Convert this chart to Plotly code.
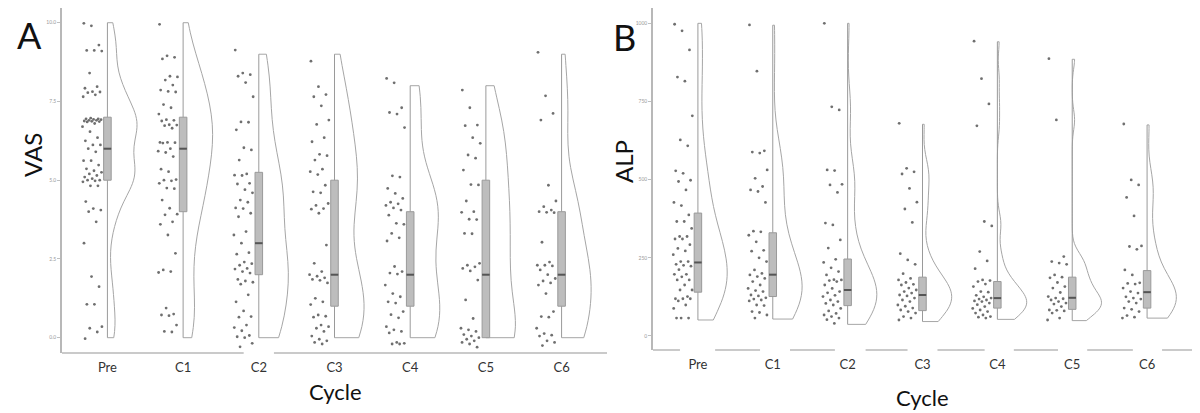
import numpy as np
import plotly.graph_objects as go

categories = ["Pre", "C1", "C2", "C3", "C4", "C5", "C6"]

vas_pre = [9.98, 9.9, 9.29, 9.12, 9.12, 9.1, 8.4, 7.97, 7.92, 7.81, 7.8, 7.78, 7.71, 7.65,
           6.97, 6.95, 6.95, 6.93, 6.92, 6.9, 6.9, 6.88, 6.87, 6.86, 6.85, 6.8, 6.7, 6.54,
           6.35, 6.25, 6.12, 6.12, 6.0, 5.9, 5.62, 5.62, 5.48, 5.36, 5.3, 5.25, 5.2, 5.15,
           5.1, 5.05, 5.0, 5.0, 4.98, 4.95, 4.82, 4.82, 4.32, 4.1, 4.05, 4.0, 3.68, 3.0,
           1.94, 1.62, 1.06, 1.06, 0.35, 0.3, 0.18, -0.03]
vas_c1 = [9.95, 8.95, 8.9, 8.85, 8.3, 8.28, 8.18, 8.02, 7.86, 7.82, 7.8, 7.4, 7.3, 7.1,
          6.92, 6.9, 6.88, 6.76, 6.75, 6.73, 6.65, 6.2, 6.2, 6.19, 6.18, 6.0, 5.92, 5.88,
          5.75, 5.35, 5.27, 5.02, 5.0, 4.98, 4.9, 4.75, 4.73, 4.37, 4.11, 3.92, 3.9, 3.68,
          3.6, 3.26, 2.68, 2.15, 2.1, 2.07, 0.94, 0.75, 0.72, 0.7, 0.4, 0.2, 0.18]
vas_c2 = [9.13, 8.4, 8.35, 8.3, 8.1, 7.65, 6.85, 6.84, 6.6, 6.03, 5.96, 5.64, 5.2, 5.16,
          5.15, 4.9, 4.88, 4.7, 4.6, 4.37, 4.3, 4.12, 4.1, 3.95, 3.84, 3.37, 3.26, 3.0,
          2.7, 2.65, 2.4, 2.35, 2.3, 2.2, 2.18, 2.1, 2.05, 1.85, 1.8, 1.76, 1.7, 1.36,
          1.14, 0.85, 0.67, 0.65, 0.4, 0.32, 0.22, 0.07, 0.03, 0.0, -0.18, -0.29]
vas_c3 = [8.78, 7.97, 7.72, 7.65, 7.36, 6.91, 6.77, 6.35, 6.22, 5.82, 5.78, 5.64, 5.35,
          5.27, 5.18, 4.84, 4.63, 4.6, 4.26, 4.2, 4.1, 4.08, 3.95, 2.94, 2.36, 2.1, 2.0,
          1.95, 1.9, 1.85, 1.82, 1.74, 1.25, 1.14, 1.05, 0.72, 0.68, 0.65, 0.4, 0.35,
          0.3, 0.2, 0.05, -0.05, -0.1, -0.15, -0.2]
vas_c4 = [8.23, 8.09, 7.3, 7.15, 7.1, 6.67, 5.14, 5.1, 4.74, 4.58, 4.42, 4.3, 4.25, 4.2,
          4.12, 4.05, 3.89, 3.63, 3.6, 3.31, 3.17, 3.07, 2.26, 2.1, 2.05, 2.02, 1.67, 1.4,
          1.3, 1.14, 1.1, 0.83, 0.73, 0.63, 0.35, 0.25, 0.2, 0.15, -0.15, -0.18, -0.2, -0.2]
vas_c5 = [7.86, 7.3, 6.75, 6.73, 6.35, 6.17, 5.8, 5.7, 5.32, 4.86, 4.85, 4.34, 4.0, 3.98,
          3.76, 3.75, 3.31, 3.3, 2.36, 2.3, 2.25, 2.2, 2.12, 1.83, 1.2, 0.61, 0.3, 0.25,
          0.2, 0.1, 0.05, 0.0, -0.05, -0.1, -0.15, -0.2, -0.3]
vas_c6 = [9.06, 7.68, 7.12, 6.91, 4.84, 4.34, 4.16, 4.05, 4.0, 3.98, 3.97, 3.03, 2.4, 2.3,
          2.3, 2.28, 2.15, 2.0, 1.88, 1.8, 1.74, 1.67, 1.4, 0.83, 0.67, 0.65, 0.3, 0.13,
          0.08, 0.05, -0.1, -0.15, -0.25]

vas_q1 = [5, 4, 2, 1, 1, 0, 1]
vas_median = [6, 6, 3, 2, 2, 2, 2]
vas_q3 = [7, 7, 5.25, 5, 4, 5, 4]
vas_min = [0, 0, 0, 0, 0, 0, 0]
vas_max = [10, 10, 9, 9, 8, 8, 9]
vas_ticks = [0, 2.5, 5, 7.5, 10]
vas_ticktext = ["0.0", "2.5", "5.0", "7.5", "10.0"]

# ---- Panel B: ALP ----
alp_pre = [997, 976, 915, 828, 815, 704, 627, 608, 528, 520, 498, 494, 467, 427, 417, 387,
           366, 366, 344, 318, 318, 310, 310, 292, 280, 272, 260, 238, 238, 229, 226, 223,
           212, 197, 197, 189, 179, 179, 163, 147, 147, 126, 119, 119, 119, 112, 99, 88,
           57, 57, 57]
alp_c1 = [995, 847, 592, 588, 585, 531, 504, 478, 467, 462, 427, 335, 333, 322, 301, 274,
          271, 250, 238, 211, 200, 195, 190, 184, 174, 163, 152, 145, 142, 131, 128, 122,
          118, 115, 112, 99, 97, 78, 75, 67, 57]
alp_c2 = [1000, 733, 723, 531, 529, 485, 483, 459, 361, 355, 307, 281, 245, 235, 218, 206,
          195, 180, 179, 177, 174, 163, 152, 142, 138, 130, 126, 115, 110, 104, 99, 88,
          80, 72, 67, 62, 57, 52, 40]
alp_c3 = [680, 536, 525, 518, 472, 428, 406, 363, 263, 243, 229, 199, 184, 179, 171, 165,
          163, 153, 147, 142, 137, 131, 128, 121, 115, 110, 99, 95, 89, 83, 78, 73, 62,
          57, 51]
alp_c4 = [943, 823, 742, 672, 366, 352, 270, 240, 215, 179, 177, 174, 166, 158, 142, 140,
          130, 125, 121, 118, 115, 112, 110, 105, 100, 94, 88, 83, 78, 73, 67, 62, 60, 57]
alp_c5 = [887, 691, 254, 238, 233, 229, 195, 188, 186, 171, 158, 153, 139, 126, 121, 119,
          115, 110, 105, 102, 94, 83, 82, 80, 73, 57, 51]
alp_c6 = [678, 499, 483, 443, 384, 288, 286, 277, 211, 195, 170, 168, 166, 153, 142, 137,
          125, 121, 118, 110, 105, 89, 85, 78, 65, 60, 57]

alp_q1 = [140, 126, 97, 81, 89, 85, 89]
alp_median = [235, 196, 147, 131, 121, 122, 140]
alp_q3 = [393, 330, 246, 188, 174, 188, 209]
alp_min = [51, 54, 37, 46, 53, 49, 57]
alp_max = [1000, 994, 1000, 677, 941, 885, 675]
alp_ticks = [0, 250, 500, 750, 1000]
alp_ticktext = ["0", "250", "500", "750", "1000"]

vas_points = [vas_pre, vas_c1, vas_c2, vas_c3, vas_c4, vas_c5, vas_c6]
alp_points = [alp_pre, alp_c1, alp_c2, alp_c3, alp_c4, alp_c5, alp_c6]

# ---------------- styling ----------------
W, H = 1200, 413
FONT = "Lato, 'Open Sans', sans-serif"
PT_COLOR = "rgba(75,75,75,0.8)"
VIO_LINE = "#a6a6a6"
BOX_FILL = "#bdbdbd"
BOX_LINE = "#9a9a9a"
MED_COLOR = "#555555"
AXIS_COLOR = "#b8b8b8"


def nrd0(v):
    v = np.asarray(v, float)
    sd = v.std(ddof=1)
    iqr = np.subtract(*np.percentile(v, [75, 25]))
    lo = min(sd, iqr / 1.34) if iqr > 0 else sd
    return 0.9 * lo * len(v) ** (-0.2)


def jitter_offsets(n):
    k = np.arange(1, n + 1)
    u = (k * 0.6180339887 + 0.31) % 1.0
    return -0.07 - 0.26 * u


fig = go.Figure()


def add_panel(points, q1, med, q3, vmin, vmax, xa, ya, group):
    for i, vals in enumerate(points):
        fig.add_trace(go.Violin(
            x=[i] * len(vals), y=vals, xaxis=xa, yaxis=ya,
            side="positive", width=0.78, scalegroup=group, scalemode="width",
            spanmode="manual", span=[vmin[i], vmax[i]], bandwidth=nrd0(vals),
            points=False, box_visible=False, meanline_visible=False,
            line=dict(color=VIO_LINE, width=1), fillcolor="rgba(255,255,255,0)",
            hoverinfo="skip", showlegend=False))
    fig.add_trace(go.Box(
        x=list(range(len(categories))), q1=q1, median=med, q3=q3,
        lowerfence=vmin, upperfence=vmax, xaxis=xa, yaxis=ya,
        width=0.1, whiskerwidth=0, fillcolor=BOX_FILL,
        line=dict(color=BOX_LINE, width=1), boxpoints=False,
        hoverinfo="skip", showlegend=False))
    mx, my = [], []
    for i, m in enumerate(med):
        mx += [i - 0.05, i + 0.05, None]
        my += [m, m, None]
    fig.add_trace(go.Scatter(x=mx, y=my, xaxis=xa, yaxis=ya, mode="lines",
                             line=dict(color=MED_COLOR, width=2),
                             hoverinfo="skip", showlegend=False))
    px, py = [], []
    for i, vals in enumerate(points):
        px += list(i + jitter_offsets(len(vals)))
        py += list(vals)
    fig.add_trace(go.Scatter(x=px, y=py, xaxis=xa, yaxis=ya, mode="markers",
                             marker=dict(size=2.8, color=PT_COLOR, line=dict(width=0)),
                             hoverinfo="skip", showlegend=False))


add_panel(vas_points, vas_q1, vas_median, vas_q3, vas_min, vas_max, "x", "y", "A")
add_panel(alp_points, alp_q1, alp_median, alp_q3, alp_min, alp_max, "x2", "y2", "B")


def xaxis_cfg(x0, x1, anchor, standoff):
    return dict(domain=[x0 / W, x1 / W], range=[-0.6, 6.6], anchor=anchor,
                tickmode="array", tickvals=list(range(len(categories))),
                ticktext=categories, ticks="", showgrid=False, zeroline=False,
                showline=False, ticklabelstandoff=standoff,
                tickfont=dict(family=FONT, size=13, color="#333333"))


def yaxis_cfg(top, bottom, rng, tv, tt, anchor):
    return dict(domain=[1 - bottom / H, 1 - top / H], range=rng, anchor=anchor,
                tickmode="array", tickvals=tv, ticktext=tt, ticks="outside",
                ticklen=3, tickcolor="#c0c0c0", tickwidth=1,
                showgrid=False, zeroline=False, showline=True,
                linecolor=AXIS_COLOR, linewidth=1.5,
                tickfont=dict(family=FONT, size=5, color="#999999"))


fig.update_layout(
    width=W, height=H, margin=dict(l=0, r=0, t=0, b=0),
    paper_bgcolor="white", plot_bgcolor="white",
    violinmode="overlay", boxmode="overlay", showlegend=False,
    xaxis=xaxis_cfg(62, 607, "y", 5),
    yaxis=yaxis_cfg(8, 353, [-0.486, 10.467], vas_ticks, vas_ticktext, "x"),
    xaxis2=xaxis_cfg(653, 1192, "y2", 5),
    yaxis2=yaxis_cfg(8, 350, [-45, 1049], alp_ticks, alp_ticktext, "x2"),
)

# x-axis baselines (broken around tick labels as in the original)
line_style = dict(color=AXIS_COLOR, width=1.5)
for a, b in [(-0.6, 1.8), (2.2, 6.6)]:
    fig.add_shape(type="line", xref="x", yref="y domain", x0=a, x1=b, y0=0, y1=0,
                  line=line_style)
for a, b in [(-0.6, -0.24), (0.23, 0.83), (1.23, 1.83), (2.24, 2.8), (3.2, 3.83),
             (4.22, 4.81), (5.2, 5.81), (6.2, 6.6)]:
    fig.add_shape(type="line", xref="x2", yref="y2 domain", x0=a, x1=b, y0=0, y1=0,
                  line=line_style)


def ann(text, x, y, size, angle=0):
    fig.add_annotation(text=text, x=x / W, y=1 - y / H, xref="paper", yref="paper",
                       xanchor="center", yanchor="middle", showarrow=False,
                       textangle=angle, font=dict(family=FONT, size=size, color="#111111"))


ann("A", 29, 35, 36)
ann("B", 624, 37, 36)
ann("VAS", 33, 155, 24, -90)
ann("ALP", 623, 162, 24, -90)
ann("Cycle", 335, 391, 22)
ann("Cycle", 922, 397, 22)

fig.write_html("out.html")
